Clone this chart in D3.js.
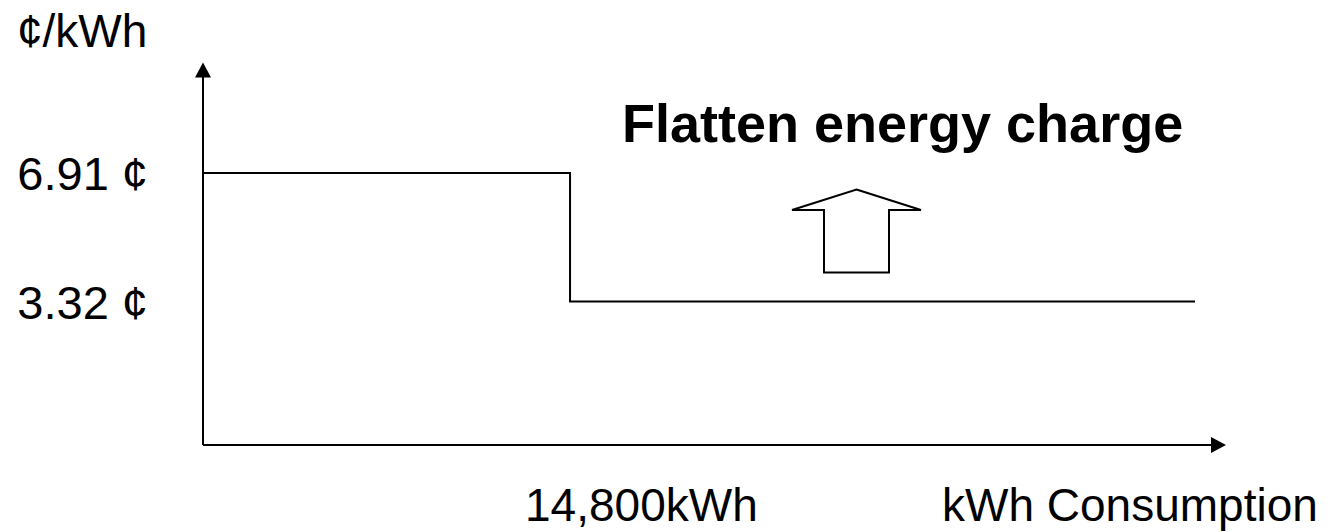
<!DOCTYPE html>
<html>
<head>
<meta charset="utf-8">
<script src="https://cdn.jsdelivr.net/npm/d3@7"></script>
<style>
  body { margin: 0; background: #fff; }
  svg { display: block; font-family: Arial, "Liberation Sans", sans-serif; }
  .axis, .rate, .hint { fill: none; stroke: #000; stroke-width: 2; }
  .head { fill: #000; stroke: none; }
  .lbl { font-size: 46px; fill: #000; }
  .rateLbl { font-size: 47px; }
  .title { font-size: 54px; font-weight: bold; fill: #000; }
</style>
</head>
<body>
<script>
// energy rate steps (kWh from, kWh to, cents per kWh)
var stepStarts = [0, 14800];
var stepEnds = [14800, 40000];
var stepRates = [6.91, 3.32];

// tick labels
var rateLabels = ["6.91 \u00a2", "3.32 \u00a2"];
var breakLabels = ["14,800kWh"];
var yTitle = "\u00a2/kWh";
var xTitle = "kWh Consumption";
var note = "Flatten energy charge";

var W = 1332, H = 532;

var x = d3.scaleLinear().domain([0, 41250]).range([203, 1226]);
var y = d3.scaleLinear().domain([-0.69, 10.0]).range([445, 62.5]);

var svg = d3.select("body").append("svg")
	.attr("width", W)
	.attr("height", H);

// axes
var x0 = x(0), y0 = y(-0.69);
var xEnd = x.range()[1], yEnd = y.range()[1];

svg.append("line").attr("class", "axis")
	.attr("x1", x0).attr("y1", y0)
	.attr("x2", x0).attr("y2", yEnd + 12);
svg.append("path").attr("class", "head")
	.attr("d", "M" + x0 + "," + yEnd + "L" + (x0 - 8) + "," + (yEnd + 15) + "L" + (x0 + 8) + "," + (yEnd + 15) + "Z");

svg.append("line").attr("class", "axis")
	.attr("x1", x0).attr("y1", y0)
	.attr("x2", xEnd - 12).attr("y2", y0);
svg.append("path").attr("class", "head")
	.attr("d", "M" + xEnd + "," + y0 + "L" + (xEnd - 15) + "," + (y0 - 8) + "L" + (xEnd - 15) + "," + (y0 + 8) + "Z");

// step line
var pts = [];
stepRates.forEach(function(r, i) {
	pts.push([x(stepStarts[i]), y(r)]);
	pts.push([x(stepEnds[i]), y(r)]);
});
svg.append("path").attr("class", "rate")
	.attr("d", d3.line()(pts));

// rate labels
svg.selectAll("text.rateLbl")
	.data(stepRates)
	.enter().append("text")
	.attr("class", "lbl rateLbl")
	.attr("text-anchor", "end")
	.attr("x", 148)
	.attr("y", function(d) { return y(d) + 17; })
	.text(function(d, i) { return rateLabels[i]; });

svg.append("text").attr("class", "lbl")
	.attr("x", 17).attr("y", 47)
	.text(yTitle);

svg.append("text").attr("class", "lbl")
	.attr("x", x(stepEnds[0]) - 45).attr("y", 521)
	.text(breakLabels[0]);

svg.append("text").attr("class", "lbl")
	.attr("x", 942).attr("y", 521)
	.text(xTitle);

// annotation
svg.append("text").attr("class", "title")
	.attr("x", 622).attr("y", 142)
	.text(note);

var arrowX = 856.5, arrowTip = 189.5, arrowWing = 210, arrowBot = 272.5;
svg.append("path").attr("class", "hint")
	.attr("stroke-linejoin", "miter")
	.attr("d", d3.line()([
		[arrowX, arrowTip], [arrowX + 64.5, arrowWing], [arrowX + 32.5, arrowWing], [arrowX + 32.5, arrowBot],
		[arrowX - 32.5, arrowBot], [arrowX - 32.5, arrowWing], [arrowX - 64.5, arrowWing]
	]) + "Z");
</script>
</body>
</html>
